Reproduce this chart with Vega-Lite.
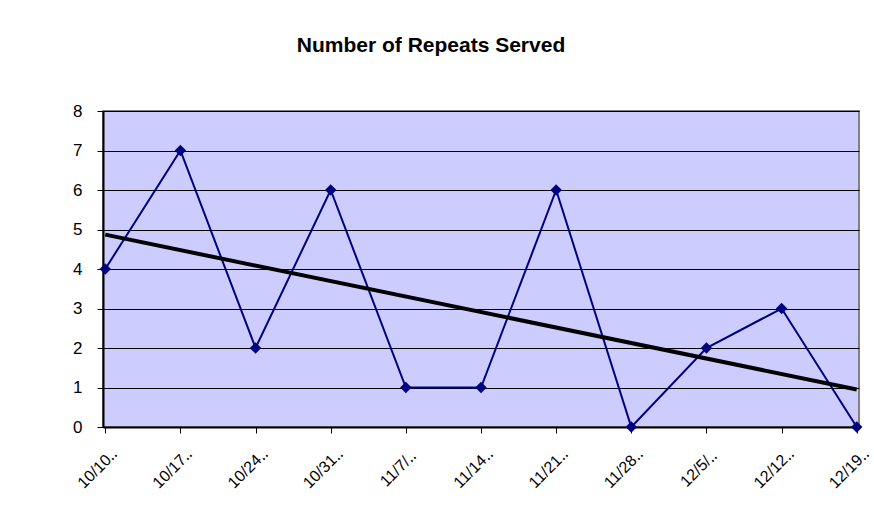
{
  "$schema": "https://vega.github.io/schema/vega-lite/v6.json",
  "autosize": "none",
  "padding": {"left": 103, "top": 111, "right": 15, "bottom": 95},
  "width": 756,
  "height": 316,
  "background": "white",
  "title": {
    "text": "Number of Repeats Served",
    "font": "Liberation Sans",
    "fontSize": 21,
    "fontWeight": "bold",
    "color": "black",
    "anchor": "middle",
    "dx": -50,
    "offset": 46
  },
  "config": {
    "font": "Liberation Sans",
    "view": {"fill": "#CCCCFF", "stroke": "#808080", "strokeWidth": 2},
    "axis": {
      "domainColor": "black",
      "domainWidth": 2,
      "tickColor": "black",
      "tickWidth": 1,
      "tickSize": 6,
      "labelColor": "black",
      "labelFont": "Liberation Sans",
      "labelFontSize": 17,
      "title": null
    }
  },
  "data": {
    "values": [
      {"week": "10/10‥", "repeats": 4, "trend": 4.87},
      {"week": "10/17‥", "repeats": 7},
      {"week": "10/24‥", "repeats": 2},
      {"week": "10/31‥", "repeats": 6},
      {"week": "11/7/‥", "repeats": 1},
      {"week": "11/14‥", "repeats": 1},
      {"week": "11/21‥", "repeats": 6},
      {"week": "11/28‥", "repeats": 0},
      {"week": "12/5/‥", "repeats": 2},
      {"week": "12/12‥", "repeats": 3},
      {"week": "12/19‥", "repeats": 0, "trend": 0.95}
    ]
  },
  "encoding": {
    "x": {
      "field": "week",
      "type": "ordinal",
      "sort": null,
      "scale": {"type": "point", "padding": 0.03},
      "axis": {
        "labelAngle": -45,
        "labelAlign": "center",
        "labelBaseline": "middle",
        "labelPadding": 35,
        "labelOffset": -8,
        "labelFontSize": 16,
        "grid": false
      }
    }
  },
  "layer": [
    {
      "mark": {"type": "line", "color": "#000080", "strokeWidth": 2},
      "encoding": {
        "y": {
          "field": "repeats",
          "type": "quantitative",
          "scale": {"domain": [0, 8], "nice": false},
          "axis": {
            "values": [0, 1, 2, 3, 4, 5, 6, 7, 8],
            "grid": true,
            "gridColor": "black",
            "gridWidth": 1,
            "labelPadding": 15,
            "labelOverlap": false
          }
        }
      }
    },
    {
      "mark": {"type": "point", "shape": "diamond", "filled": true, "color": "#000080", "size": 130, "opacity": 1},
      "encoding": {
        "y": {
          "field": "repeats",
          "type": "quantitative",
          "axis": {
            "values": [0, 1, 2, 3, 4, 5, 6, 7, 8],
            "grid": true,
            "gridColor": "black",
            "gridWidth": 1,
            "labelPadding": 15,
            "labelOverlap": false
          }
        }
      }
    },
    {
      "transform": [{"filter": "isValid(datum.trend)"}],
      "mark": {"type": "line", "color": "black", "strokeWidth": 4, "strokeCap": "butt"},
      "encoding": {
        "y": {
          "field": "trend",
          "type": "quantitative",
          "axis": {
            "values": [0, 1, 2, 3, 4, 5, 6, 7, 8],
            "grid": true,
            "gridColor": "black",
            "gridWidth": 1,
            "labelPadding": 15,
            "labelOverlap": false
          }
        }
      }
    }
  ]
}
